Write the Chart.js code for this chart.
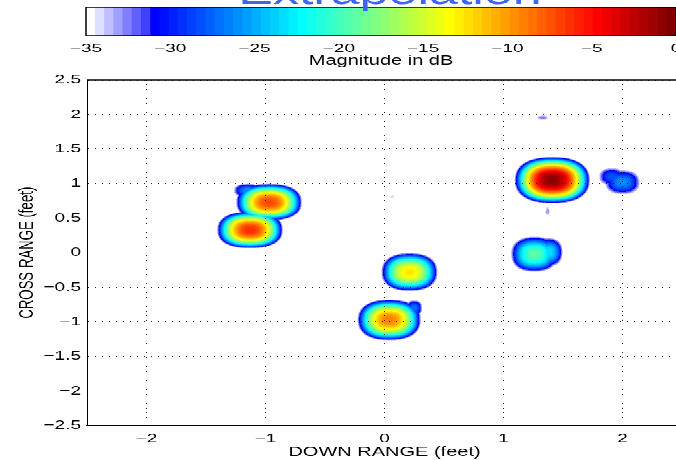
<!DOCTYPE html>
<html>
<head>
<meta charset="UTF-8">
<title>Extrapolation</title>
<script src="https://cdn.jsdelivr.net/npm/chart.js@4"></script>
<style>
  html, body { margin: 0; padding: 0; background: #fff; overflow: hidden; }
  /* the original figure is squashed vertically, so draw tall and squeeze */
  #wrap { position: absolute; left: 0; top: 0; width: 720px; height: 697px; transform: scaleY(0.66); transform-origin: 0 0; }
  #wrap canvas { position: absolute; left: 0; top: 0; }
</style>
</head>
<body>
<div id="wrap">
  <canvas id="image" width="720" height="697"></canvas>
  <canvas id="bar" width="720" height="110"></canvas>
</div>
<script>
// targets: centre (feet), peak (dB), extent down to -35 dB (feet)
const targetX    = [1.41, 2.00, 1.91, 1.26, 1.38, -0.97, -1.15, -1.13, 0.21, 0.04, 0.25, 1.33, 0.07, 1.37];
const targetY    = [1.05, 1.02, 1.10, -0.02, 0.01, 0.73, 0.90, 0.33, -0.28, -0.97, -0.80, 1.95, 0.81, 0.60];
const targetPeak = [-0.5, -26, -28, -19, -23, -7, -26, -6, -12.5, -9, -27, -32.5, -34, -33];
const targetRx   = [0.32, 0.15, 0.11, 0.20, 0.12, 0.28, 0.12, 0.28, 0.24, 0.27, 0.07, 0.05, 0.02, 0.02];
const targetRy   = [0.34, 0.18, 0.13, 0.26, 0.21, 0.27, 0.10, 0.27, 0.28, 0.30, 0.12, 0.035, 0.03, 0.07];

const xTicks = [-2, -1, 0, 1, 2];
const yTicks = [-2.5, -2, -1.5, -1, -0.5, 0, 0.5, 1, 1.5, 2, 2.5];
const cbTicks = [-35, -30, -25, -20, -15, -10, -5, 0];
const cbMin = -35, cbMax = 0, nColors = 64;

Chart.defaults.font.family = '"Liberation Sans", Arial, sans-serif';
Chart.defaults.color = '#000';

const fmt = v => String(v).replace('-', '\u2212');

// jet(64) with the low end faded to white
function jetColor(i) {
  const u = j => (j < 0 || j > 46) ? 0 : j < 16 ? (j + 1) / 16 : j < 31 ? 1 : (47 - j) / 16;
  if (i < 7) {
    const c = 1 - i * 0.125;
    return [c, c, 1];
  }
  return [u(i - 24), u(i - 8), u(i + 8)];
}
const cmap = [];
for (let i = 0; i < nColors; i++) cmap.push(jetColor(i).map(c => Math.round(c * 255)));
const cmapCss = cmap.map(c => `rgb(${c[0]},${c[1]},${c[2]})`);

const heatmap = {
  id: 'heatmap',
  beforeDraw(chart) {
    const {ctx, chartArea: a, scales: {x, y}} = chart;
    const left = Math.round(a.left), top = Math.round(a.top);
    const w = Math.round(a.right) - left, h = Math.round(a.bottom) - top;
    const img = ctx.createImageData(w, h);
    const q = 2.4, p = 2.2;
    for (let j = 0; j < h; j++) {
      const vy = y.getValueForPixel(top + j + 0.5);
      for (let i = 0; i < w; i++) {
        const vx = x.getValueForPixel(left + i + 0.5);
        let best = -Infinity;
        for (let k = 0; k < targetX.length; k++) {
          const dx = Math.abs(vx - targetX[k]) / targetRx[k];
          const dy = Math.abs(vy - targetY[k]) / targetRy[k];
          if (dx >= 1 || dy >= 1) continue;
          const d = Math.pow(Math.pow(dx, q) + Math.pow(dy, q), 1 / q);
          if (d >= 1) continue;
          const v = targetPeak[k] - (targetPeak[k] - cbMin) * Math.pow(d, p);
          if (v > best) best = v;
        }
        if (best <= cbMin) continue;
        const idx = Math.min(nColors - 1, Math.floor((best - cbMin) / (cbMax - cbMin) * nColors));
        const c = cmap[idx], o = (j * w + i) * 4;
        img.data[o] = c[0]; img.data[o + 1] = c[1]; img.data[o + 2] = c[2]; img.data[o + 3] = 255;
      }
    }
    ctx.putImageData(img, left, top);
  }
};

const frame = {
  id: 'frame',
  afterDraw(chart) {
    const {ctx, chartArea: a} = chart;
    ctx.save();
    ctx.strokeStyle = '#000';
    ctx.lineWidth = 1.5;
    ctx.beginPath();
    ctx.moveTo(a.left, a.top); ctx.lineTo(a.right, a.top);
    ctx.moveTo(a.right, a.top); ctx.lineTo(a.right, a.bottom);
    ctx.stroke();
    ctx.restore();
  }
};

new Chart(document.getElementById('image'), {
  type: 'scatter',
  data: {
    datasets: [{
      data: targetX.map((v, i) => ({x: v, y: targetY[i]})),
      pointRadius: 0, pointHoverRadius: 0
    }]
  },
  options: {
    responsive: false, animation: false, events: [],
    layout: {padding: {left: 0, top: 121, right: 38, bottom: 0}},
    plugins: {legend: {display: false}, tooltip: {enabled: false}},
    scales: {
      x: {
        type: 'linear', min: -2.5, max: 2.5,
        afterBuildTicks: s => { s.ticks = xTicks.map(v => ({value: v})); },
        afterFit: s => { s.height = 52; },
        grid: {color: '#222', drawTicks: false},
        border: {color: '#000', width: 1.5, dash: [1, 6]},
        ticks: {padding: 8, font: {size: 19}, callback: v => fmt(v)},
        title: {display: true, text: 'DOWN RANGE (feet)', font: {size: 20}, padding: {top: 0, bottom: 0}}
      },
      y: {
        type: 'linear', min: -2.5, max: 2.5,
        afterBuildTicks: s => { s.ticks = yTicks.map(v => ({value: v})); },
        afterFit: s => { s.width = 87; },
        grid: {color: '#222', drawTicks: false},
        border: {color: '#000', width: 1, dash: [1, 6]},
        ticks: {padding: 6, font: {size: 19}, callback: v => fmt(v)},
        title: {display: true, text: 'CROSS RANGE (feet)', font: {size: 20}, padding: {top: 15, bottom: 0}}
      }
    }
  },
  plugins: [heatmap, frame]
});

// colour bar: one floating bar per colour level
const levels = cmap.map((c, i) => ({
  x: [cbMin + i * (cbMax - cbMin) / nColors, cbMin + (i + 1) * (cbMax - cbMin) / nColors],
  y: 'dB'
}));

const barFrame = {
  id: 'barFrame',
  afterDraw(chart) {
    const {ctx, chartArea: a} = chart;
    ctx.save();
    ctx.strokeStyle = '#000';
    ctx.lineWidth = 1.5;
    ctx.strokeRect(a.left, a.top, a.right - a.left, a.bottom - a.top);
    // figure title, mostly cut off by the top of the window
    ctx.font = '52px "Liberation Sans", Arial, sans-serif';
    ctx.fillStyle = '#3d66f0';
    ctx.textAlign = 'center';
    ctx.textBaseline = 'alphabetic';
    ctx.fillText('Extrapolation', 390, 6);
    ctx.restore();
  }
};

new Chart(document.getElementById('bar'), {
  type: 'bar',
  data: {
    labels: ['dB'],
    datasets: [{
      data: levels, backgroundColor: cmapCss, borderWidth: 0,
      barPercentage: 1, categoryPercentage: 1
    }]
  },
  options: {
    indexAxis: 'y', responsive: false, animation: false, events: [],
    layout: {padding: {left: 86, right: 44, top: 11, bottom: 0}},
    plugins: {legend: {display: false}, tooltip: {enabled: false}},
    scales: {
      x: {
        type: 'linear', min: cbMin, max: cbMax,
        afterBuildTicks: s => { s.ticks = cbTicks.map(v => ({value: v})); },
        afterFit: s => { s.height = 56; },
        grid: {display: false, drawTicks: false},
        border: {display: false},
        ticks: {padding: 8, font: {size: 19}, callback: v => fmt(v)},
        title: {display: true, text: 'Magnitude in dB', font: {size: 20}, padding: {top: 0, bottom: 6}}
      },
      y: {display: false}
    }
  },
  plugins: [barFrame]
});
</script>
</body>
</html>
